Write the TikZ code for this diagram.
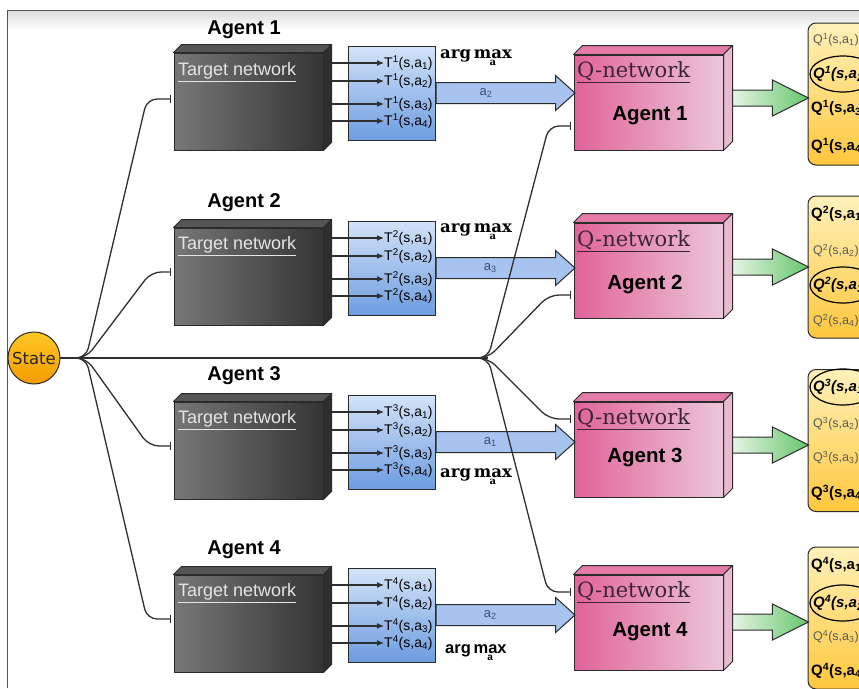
\documentclass[tikz,border=0pt]{standalone}
\usepackage{fontspec}
\setmainfont{Liberation Sans}
\newfontfamily\qserif{DejaVu Serif}
\newfontfamily\statefont{DejaVu Sans}
\usetikzlibrary{shapes.arrows,arrows.meta,calc}

\definecolor{boxline}{HTML}{2B2B2B}
\definecolor{tnL}{HTML}{777777}
\definecolor{tnR}{HTML}{343434}
\definecolor{tnTop}{HTML}{555555}
\definecolor{tnSide}{HTML}{2E2E2E}
\definecolor{tbTop}{HTML}{D3E3F8}
\definecolor{tbBot}{HTML}{6D9CE0}
\definecolor{arrBlue}{HTML}{A6C4EF}
\definecolor{qnL}{HTML}{E2639A}
\definecolor{qnR}{HTML}{EBC7D9}
\definecolor{qnTop}{HTML}{E27BA8}
\definecolor{qnSide}{HTML}{E8B9CF}
\definecolor{grL}{HTML}{E6F4E6}
\definecolor{grR}{HTML}{66C66B}
\definecolor{qbTop}{HTML}{FFF1BA}
\definecolor{qbMid}{HTML}{FFDF7E}
\definecolor{qbBot}{HTML}{FFC73C}
\definecolor{stTop}{HTML}{FFC825}
\definecolor{stBot}{HTML}{F29B00}
\definecolor{wire}{HTML}{2F2F2F}
\definecolor{qgray}{HTML}{5A5A5A}
\definecolor{alabc}{HTML}{34507E}
\definecolor{qntext}{HTML}{3B2437}

\begin{document}
\begin{tikzpicture}[
    x=1pt, y=-1pt,
    title/.style={font=\fontsize{20}{24}\selectfont\bfseries},
    tnet/.style={draw=boxline, line width=1pt, left color=tnL, right color=tnR, minimum width=149pt, minimum height=97pt, inner sep=0pt},
    tnname/.style={anchor=west, text=black!10, font=\fontsize{18}{20}\selectfont, inner sep=0pt},
    tbox/.style={draw=boxline, line width=1pt, top color=tbTop, bottom color=tbBot, minimum width=87pt, minimum height=94pt, inner sep=0pt},
    tlab/.style={anchor=west, font=\fontsize{14}{16}\selectfont, inner sep=0pt},
    tarrow/.style={draw=wire, line width=1.2pt, -{Latex[length=7pt,width=6pt]}},
    bigarrow/.style={single arrow, draw=boxline, line width=1pt, fill=arrBlue, anchor=tail, inner xsep=0pt, inner ysep=10pt, single arrow head extend=7pt, single arrow tip angle=84, minimum height=139pt},
    alab/.style={text=alabc, font=\fontsize{13}{15}\selectfont},
    argmax/.style={anchor=base west, font=\qserif\bfseries\fontsize{16.5}{18}\selectfont, inner sep=0pt},
    qnet/.style={draw=boxline, line width=1pt, left color=qnL, right color=qnR, minimum width=149pt, minimum height=95pt, inner sep=0pt},
    qnname/.style={anchor=west, text=qntext, font=\qserif\fontsize{21}{24}\selectfont, inner sep=0pt},
    qagent/.style={font=\fontsize{20.5}{24}\selectfont\bfseries},
    greenarrow/.style={single arrow, draw=boxline, line width=1pt, left color=grL, right color=grR, anchor=tail, inner xsep=0pt, inner ysep=7.5pt, single arrow head extend=10pt, single arrow tip angle=53, minimum height=76pt},
    qbox/.style={draw=boxline, line width=1pt, rounded corners=8pt, top color=qbTop, middle color=qbMid, bottom color=qbBot, minimum width=80pt, minimum height=142pt},
    qbest/.style={anchor=west, font=\fontsize{15}{17}\selectfont\bfseries, inner sep=0pt},
    qpick/.style={anchor=west, font=\fontsize{15}{17}\selectfont\bfseries\itshape, inner sep=0pt},
    qrest/.style={anchor=west, text=qgray, font=\fontsize{12.5}{14}\selectfont, inner sep=0pt},
    ring/.style={draw=black, line width=1.2pt},
    feed/.style={draw=wire, line width=1.3pt, rounded corners=10pt, shorten >=3pt, -{Bar[width=8pt,line width=1pt]}},
    stateball/.style={circle, draw=boxline, line width=1pt, top color=stTop, bottom color=stBot, minimum size=52pt, inner sep=0pt, font=\statefont\fontsize{16.5}{18}\selectfont, text=black!85},
    face/.style={draw=boxline, line width=1pt, line join=round}
]

\useasboundingbox (0,0) rectangle (859,688);
\clip (0,0) rectangle (859,688);
\fill[white] (0,0) rectangle (859,688);

% page frame
\shade[top color=black!14, bottom color=white] (7,10) rectangle (859,30);
\draw[boxline!80, line width=1pt] (7,688) -- (7,10) -- (859,10);

% titles
\node[title] (ag1) at (244,30) {Agent 1};
\node[title] (ag2) at (244,203) {Agent 2};
\node[title] (ag3) at (244,376) {Agent 3};
\node[title] (ag4) at (244,550) {Agent 4};

% Target networks
\node[tnet] (tn1) at (248.5,101.5) {};
\node[tnet] (tn2) at (248.5,276.5) {};
\node[tnet] (tn3) at (248.5,450.5) {};
\node[tnet] (tn4) at (248.5,623.5) {};
\filldraw[face, fill=tnTop] (tn1.north west) -- ++(8,-8) -- ([shift={(8,-8)}]tn1.north east) -- (tn1.north east) -- cycle;
\filldraw[face, fill=tnSide] (tn1.north east) -- ++(8,-8) -- ([shift={(8,-8)}]tn1.south east) -- (tn1.south east) -- cycle;
\filldraw[face, fill=tnTop] (tn2.north west) -- ++(8,-8) -- ([shift={(8,-8)}]tn2.north east) -- (tn2.north east) -- cycle;
\filldraw[face, fill=tnSide] (tn2.north east) -- ++(8,-8) -- ([shift={(8,-8)}]tn2.south east) -- (tn2.south east) -- cycle;
\filldraw[face, fill=tnTop] (tn3.north west) -- ++(8,-8) -- ([shift={(8,-8)}]tn3.north east) -- (tn3.north east) -- cycle;
\filldraw[face, fill=tnSide] (tn3.north east) -- ++(8,-8) -- ([shift={(8,-8)}]tn3.south east) -- (tn3.south east) -- cycle;
\filldraw[face, fill=tnTop] (tn4.north west) -- ++(8,-8) -- ([shift={(8,-8)}]tn4.north east) -- (tn4.north east) -- cycle;
\filldraw[face, fill=tnSide] (tn4.north east) -- ++(8,-8) -- ([shift={(8,-8)}]tn4.south east) -- (tn4.south east) -- cycle;
\node[tnname] (tl1) at (178,72) {\underline{Target network}};
\node[tnname] (tl2) at (178,246) {\underline{Target network}};
\node[tnname] (tl3) at (178,420) {\underline{Target network}};
\node[tnname] (tl4) at (178,593) {\underline{Target network}};

% T boxes
\node[tbox] (tb1) at (391.5,93) {};
\node[tbox] (tb2) at (391.5,268) {};
\node[tbox] (tb3) at (391.5,442) {};
\node[tbox] (tb4) at (391.5,615) {};

\node[tlab] (t11) at (384,63) {T\textsuperscript{1}(s,a\textsubscript{1})};
\node[tlab] (t12) at (384,81) {T\textsuperscript{1}(s,a\textsubscript{2})};
\node[tlab] (t13) at (384,104) {T\textsuperscript{1}(s,a\textsubscript{3})};
\node[tlab] (t14) at (384,121) {T\textsuperscript{1}(s,a\textsubscript{4})};
\node[tlab] (t21) at (384,238) {T\textsuperscript{2}(s,a\textsubscript{1})};
\node[tlab] (t22) at (384,256) {T\textsuperscript{2}(s,a\textsubscript{2})};
\node[tlab] (t23) at (384,279) {T\textsuperscript{2}(s,a\textsubscript{3})};
\node[tlab] (t24) at (384,296) {T\textsuperscript{2}(s,a\textsubscript{4})};
\node[tlab] (t31) at (384,412) {T\textsuperscript{3}(s,a\textsubscript{1})};
\node[tlab] (t32) at (384,430) {T\textsuperscript{3}(s,a\textsubscript{2})};
\node[tlab] (t33) at (384,453) {T\textsuperscript{3}(s,a\textsubscript{3})};
\node[tlab] (t34) at (384,470) {T\textsuperscript{3}(s,a\textsubscript{4})};
\node[tlab] (t41) at (384,585) {T\textsuperscript{4}(s,a\textsubscript{1})};
\node[tlab] (t42) at (384,603) {T\textsuperscript{4}(s,a\textsubscript{2})};
\node[tlab] (t43) at (384,626) {T\textsuperscript{4}(s,a\textsubscript{3})};
\node[tlab] (t44) at (384,643) {T\textsuperscript{4}(s,a\textsubscript{4})};

\draw[tarrow] (331,63) -- (t11.west);
\draw[tarrow] (331,81) -- (t12.west);
\draw[tarrow] (331,104) -- (t13.west);
\draw[tarrow] (331,121) -- (t14.west);
\draw[tarrow] (331,238) -- (t21.west);
\draw[tarrow] (331,256) -- (t22.west);
\draw[tarrow] (331,279) -- (t23.west);
\draw[tarrow] (331,296) -- (t24.west);
\draw[tarrow] (331,412) -- (t31.west);
\draw[tarrow] (331,430) -- (t32.west);
\draw[tarrow] (331,453) -- (t33.west);
\draw[tarrow] (331,470) -- (t34.west);
\draw[tarrow] (331,585) -- (t41.west);
\draw[tarrow] (331,603) -- (t42.west);
\draw[tarrow] (331,626) -- (t43.west);
\draw[tarrow] (331,643) -- (t44.west);

% arg max
\node[argmax] (am1) at (440,58) {arg\,$\mathop{\hbox{max}}\limits_{\hbox{\fontsize{10}{10}\selectfont a}}$};
\node[argmax] (am2) at (440,232) {arg\,$\mathop{\hbox{max}}\limits_{\hbox{\fontsize{10}{10}\selectfont a}}$};
\node[argmax] (am3) at (440,477) {arg\,$\mathop{\hbox{max}}\limits_{\hbox{\fontsize{10}{10}\selectfont a}}$};
\node[argmax, font=\bfseries\fontsize{16.5}{18}\selectfont] (am4) at (445,653) {arg\,$\mathop{\hbox{max}}\limits_{\hbox{\fontsize{10}{10}\selectfont a}}$};

% Q-networks
\node[qnet] (qn1) at (648.5,102.5) {};
\node[qnet] (qn2) at (648.5,270.5) {};
\node[qnet] (qn3) at (648.5,449.5) {};
\node[qnet] (qn4) at (648.5,622.5) {};
\filldraw[face, fill=qnTop] (qn1.north west) -- ++(9,-9) -- ([shift={(9,-9)}]qn1.north east) -- (qn1.north east) -- cycle;
\filldraw[face, fill=qnSide] (qn1.north east) -- ++(9,-9) -- ([shift={(9,-9)}]qn1.south east) -- (qn1.south east) -- cycle;
\filldraw[face, fill=qnTop] (qn2.north west) -- ++(9,-9) -- ([shift={(9,-9)}]qn2.north east) -- (qn2.north east) -- cycle;
\filldraw[face, fill=qnSide] (qn2.north east) -- ++(9,-9) -- ([shift={(9,-9)}]qn2.south east) -- (qn2.south east) -- cycle;
\filldraw[face, fill=qnTop] (qn3.north west) -- ++(9,-9) -- ([shift={(9,-9)}]qn3.north east) -- (qn3.north east) -- cycle;
\filldraw[face, fill=qnSide] (qn3.north east) -- ++(9,-9) -- ([shift={(9,-9)}]qn3.south east) -- (qn3.south east) -- cycle;
\filldraw[face, fill=qnTop] (qn4.north west) -- ++(9,-9) -- ([shift={(9,-9)}]qn4.north east) -- (qn4.north east) -- cycle;
\filldraw[face, fill=qnSide] (qn4.north east) -- ++(9,-9) -- ([shift={(9,-9)}]qn4.south east) -- (qn4.south east) -- cycle;
\node[qnname] (ql1) at (577,72) {\underline{Q-network}};
\node[qnname] (ql2) at (577,241) {\underline{Q-network}};
\node[qnname] (ql3) at (577,419) {\underline{Q-network}};
\node[qnname] (ql4) at (577,592) {\underline{Q-network}};
\node[qagent] (qa1) at (650,116) {Agent 1};
\node[qagent] (qa2) at (645,285) {Agent 2};
\node[qagent] (qa3) at (645,458) {Agent 3};
\node[qagent] (qa4) at (650,632) {Agent 4};

% chosen actions
\node[bigarrow] (ba1) at (tb1.east) {};
\node[bigarrow] (ba2) at (tb2.east) {};
\node[bigarrow] (ba3) at (tb3.east) {};
\node[bigarrow] (ba4) at (tb4.east) {};
\node[alab] at ($(ba1.tail)!0.36!(ba1.tip)$) {a\textsubscript{2}};
\node[alab] at ($(ba2.tail)!0.39!(ba2.tip)$) {a\textsubscript{3}};
\node[alab] at ($(ba3.tail)!0.39!(ba3.tip)$) {a\textsubscript{1}};
\node[alab] at ($(ba4.tail)!0.39!(ba4.tip)$) {a\textsubscript{2}};

% Q-value boxes
\node[qbox] (qb1) at (848,94) {};
\node[qbox] (qb2) at (848,267) {};
\node[qbox] (qb3) at (848,440.5) {};
\node[qbox] (qb4) at (848,618) {};
\node[greenarrow] (ga1) at (732,98) {};
\node[greenarrow] (ga2) at (732,267) {};
\node[greenarrow] (ga3) at (732,445) {};
\node[greenarrow] (ga4) at (732,622) {};

\node[qrest] (q11) at (813,40) {Q\textsuperscript{1}(s,a\textsubscript{1})};
\node[qpick] (q12) at (813,74) {Q\textsuperscript{1}(s,a\textsubscript{2})};
\node[qbest] (q13) at (811,108) {Q\textsuperscript{1}(s,a\textsubscript{3})};
\node[qbest] (q14) at (811,146) {Q\textsuperscript{1}(s,a\textsubscript{4})};
\draw[ring] (843,74) ellipse [x radius=33, y radius=18];

\node[qbest] (q21) at (811,214) {Q\textsuperscript{2}(s,a\textsubscript{1})};
\node[qrest] (q22) at (813,251) {Q\textsuperscript{2}(s,a\textsubscript{2})};
\node[qpick] (q23) at (813,285) {Q\textsuperscript{2}(s,a\textsubscript{3})};
\node[qrest] (q24) at (813,321) {Q\textsuperscript{2}(s,a\textsubscript{4})};
\draw[ring] (843,285) ellipse [x radius=33, y radius=18];

\node[qpick] (q31) at (813,387) {Q\textsuperscript{3}(s,a\textsubscript{1})};
\node[qrest] (q32) at (813,424) {Q\textsuperscript{3}(s,a\textsubscript{2})};
\node[qrest] (q33) at (813,458) {Q\textsuperscript{3}(s,a\textsubscript{3})};
\node[qbest] (q34) at (811,493) {Q\textsuperscript{3}(s,a\textsubscript{4})};
\draw[ring] (843,387) ellipse [x radius=33, y radius=18];

\node[qbest] (q41) at (811,565) {Q\textsuperscript{4}(s,a\textsubscript{1})};
\node[qpick] (q42) at (813,603) {Q\textsuperscript{4}(s,a\textsubscript{2})};
\node[qrest] (q43) at (813,637) {Q\textsuperscript{4}(s,a\textsubscript{3})};
\node[qbest] (q44) at (811,671) {Q\textsuperscript{4}(s,a\textsubscript{4})};
\draw[ring] (843,603) ellipse [x radius=33, y radius=18];

% State and its wires
\node[stateball] (state) at (34,358) {State};
\coordinate (fork) at (86,358);
\coordinate (hub) at (488,358);
\draw[wire, line width=2.2pt] (state) -- (hub);

\draw[feed] (state) -- (fork) -- (147,99) -- (tn1.west |- 0,99);
\draw[feed] (state) -- (fork) -- (151,272) -- (tn2.west |- 0,272);
\draw[feed] (state) -- (fork) -- (149,446) -- (tn3.west |- 0,446);
\draw[feed] (state) -- (fork) -- (147,619) -- (tn4.west |- 0,619);

\draw[feed] (state) -- (hub) -- (549,126) -- (qn1.west |- 0,126);
\draw[feed] (state) -- (hub) -- (549,295) -- (qn2.west |- 0,295);
\draw[feed] (state) -- (hub) -- (549,419) -- (qn3.west |- 0,419);
\draw[feed] (state) -- (hub) -- (548,592) -- (qn4.west |- 0,592);

\end{tikzpicture}
\end{document}
